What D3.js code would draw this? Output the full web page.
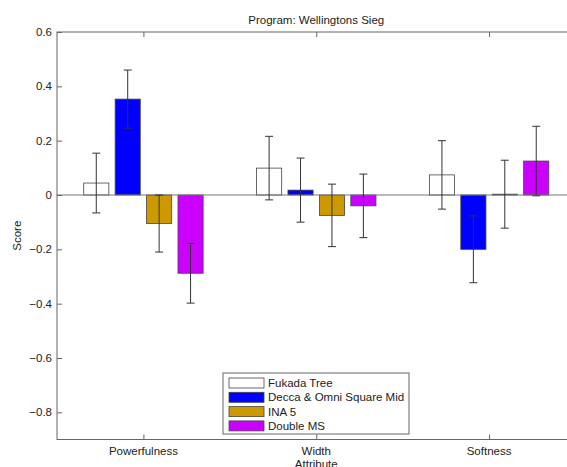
<!DOCTYPE html>
<html>
<head>
<meta charset="utf-8">
<script src="https://cdn.jsdelivr.net/npm/d3@7"></script>
<style>
  body { margin: 0; background: #fff; }
  svg { display: block; font-family: "Liberation Sans", Arial, sans-serif; }
</style>
</head>
<body>
<div id="chart"></div>
<script>
// values
const attributes = ['Powerfulness', 'Width', 'Softness']
const seriesNames = ['Fukada Tree', 'Decca & Omni Square Mid', 'INA 5', 'Double MS']
const fukadaTree = [0.044, 0.099, 0.074]
const deccaOmni = [0.353, 0.018, -0.200]
const ina5 = [-0.105, -0.075, 0.003]
const doubleMS = [-0.288, -0.040, 0.125]
const fukadaErr = [0.110, 0.117, 0.126]
const deccaErr = [0.107, 0.118, 0.123]
const ina5Err = [0.105, 0.115, 0.125]
const doubleErr = [0.110, 0.117, 0.128]
const yTicks = [-0.8, -0.6, -0.4, -0.2, 0, 0.2, 0.4, 0.6]
const colors = ['#ffffff', '#0000ff', '#cc9900', '#cc00ff']

const series = [fukadaTree, deccaOmni, ina5, doubleMS]
const errors = [fukadaErr, deccaErr, ina5Err, doubleErr]

var W = 567, H = 467
var margin = {top: 32, left: 57}
var plotRight = 575.5, plotBottom = 439.5

var svg = d3.select('#chart')
    .append('svg')
    .attr('width', W)
    .attr('height', H)

var x = d3.scaleLinear().domain([0.5, attributes.length + 0.5]).range([margin.left, plotRight])
var y = d3.scaleLinear().domain([-0.9, 0.6]).range([plotBottom, margin.top])

// matlab style grouped bars
var n = series.length
var groupW = Math.min(0.8, n / (n + 1.5))
var slot = groupW / n
var barW = slot * 0.8

var rows = []
series.forEach((vals, s) => {
    vals.forEach((v, i) => {
        rows.push({s: s, i: i, v: v, e: errors[s][i], cx: (i + 1) + (s - (n - 1) / 2) * slot})
    })
})

var axisColor = '#666'

// plot box
svg.append('rect')
    .attr('x', margin.left)
    .attr('y', margin.top)
    .attr('width', plotRight - margin.left)
    .attr('height', plotBottom - margin.top)
    .attr('fill', 'none')
    .attr('stroke', axisColor)

// bars
svg.append('g')
    .selectAll('rect')
    .data(rows)
    .enter().append('rect')
    .attr('x', d => x(d.cx - barW / 2))
    .attr('width', d => x(barW) - x(0))
    .attr('y', d => y(Math.max(0, d.v)))
    .attr('height', d => Math.abs(y(d.v) - y(0)))
    .attr('fill', d => colors[d.s])
    .attr('stroke', '#444')
    .attr('stroke-width', 0.8)

// baseline
svg.append('line')
    .attr('x1', margin.left)
    .attr('x2', plotRight)
    .attr('y1', y(0))
    .attr('y2', y(0))
    .attr('stroke', '#777')

// error bars
var err = svg.append('g')
    .attr('stroke', '#333')
    .attr('stroke-width', 1)
    .selectAll('g')
    .data(rows)
    .enter().append('g')
err.append('line')
    .attr('x1', d => x(d.cx)).attr('x2', d => x(d.cx))
    .attr('y1', d => y(d.v + d.e)).attr('y2', d => y(d.v - d.e))
err.append('line')
    .attr('x1', d => x(d.cx) - 4).attr('x2', d => x(d.cx) + 4)
    .attr('y1', d => y(d.v + d.e)).attr('y2', d => y(d.v + d.e))
err.append('line')
    .attr('x1', d => x(d.cx) - 4).attr('x2', d => x(d.cx) + 4)
    .attr('y1', d => y(d.v - d.e)).attr('y2', d => y(d.v - d.e))

// y axis (ticks inside)
var fmt = d => d === 0 ? '0' : d3.format('.1f')(d).replace('-', '\u2212')
var yAxis = svg.append('g')
    .attr('transform', `translate(${margin.left},0)`)
    .call(d3.axisRight(y).tickValues(yTicks).tickSize(5).tickFormat(''))
yAxis.select('.domain').remove()
yAxis.selectAll('line').attr('stroke', axisColor)
svg.append('g')
    .selectAll('text')
    .data(yTicks)
    .enter().append('text')
    .attr('x', margin.left - 5)
    .attr('y', d => y(d))
    .attr('dy', '0.35em')
    .attr('text-anchor', 'end')
    .attr('font-size', 11.5)
    .attr('fill', '#222')
    .text(fmt)

// x axis bottom and top ticks
var ticksX = attributes.map((a, i) => i + 1)
var xb = svg.append('g')
    .attr('transform', `translate(0,${plotBottom})`)
    .call(d3.axisTop(x).tickValues(ticksX).tickSize(5).tickFormat(''))
xb.select('.domain').remove()
xb.selectAll('line').attr('stroke', axisColor)
var xt = svg.append('g')
    .attr('transform', `translate(0,${margin.top})`)
    .call(d3.axisBottom(x).tickValues(ticksX).tickSize(5).tickFormat(''))
xt.select('.domain').remove()
xt.selectAll('line').attr('stroke', axisColor)

svg.append('g')
    .selectAll('text')
    .data(attributes)
    .enter().append('text')
    .attr('x', (d, i) => x(i + 1))
    .attr('y', plotBottom + 15)
    .attr('text-anchor', 'middle')
    .attr('font-size', 11.5)
    .attr('fill', '#222')
    .text(d => d)

// labels
svg.append('text')
    .attr('x', x(2))
    .attr('y', plotBottom + 28)
    .attr('text-anchor', 'middle')
    .attr('font-size', 11.5)
    .attr('fill', '#222')
    .text('Attribute')

svg.append('text')
    .attr('transform', `translate(21,${(margin.top + plotBottom) / 2}) rotate(-90)`)
    .attr('text-anchor', 'middle')
    .attr('font-size', 11.5)
    .attr('fill', '#222')
    .text('Score')

svg.append('text')
    .attr('x', x(2))
    .attr('y', 24)
    .attr('text-anchor', 'middle')
    .attr('font-size', 11.5)
    .attr('fill', '#222')
    .text('Program: Wellingtons Sieg')

// legend
var legend = svg.append('g')
    .attr('transform', 'translate(223,373)')
legend.append('rect')
    .attr('width', 186)
    .attr('height', 61)
    .attr('fill', '#fff')
    .attr('stroke', axisColor)
var item = legend.selectAll('g')
    .data(seriesNames)
    .enter().append('g')
    .attr('transform', (d, i) => `translate(6,${10 + i * 14.3})`)
item.append('rect')
    .attr('y', -5)
    .attr('width', 35)
    .attr('height', 10)
    .attr('fill', (d, i) => colors[i])
    .attr('stroke', '#444')
    .attr('stroke-width', 0.8)
item.append('text')
    .attr('x', 39)
    .attr('dy', '0.35em')
    .attr('font-size', 11.5)
    .attr('fill', '#222')
    .text(d => d)
</script>
</body>
</html>
